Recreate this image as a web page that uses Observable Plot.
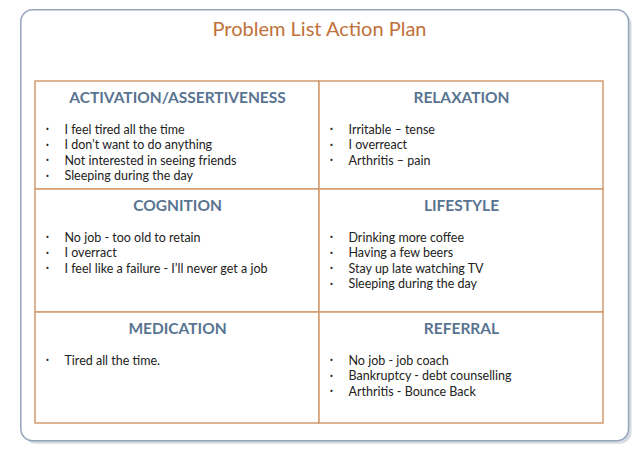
<!DOCTYPE html>
<html><head><meta charset="utf-8">
<script src="https://cdn.jsdelivr.net/npm/d3@7"></script>
<script src="https://cdn.jsdelivr.net/npm/@observablehq/plot@0.6"></script>
<style>body{margin:0;background:#fff;font-family:Lato,"Open Sans",sans-serif}</style>
</head><body><div id="c"></div>
<script>
const title = "Problem List Action Plan";
const headings = ["ACTIVATION/ASSERTIVENESS","RELAXATION","COGNITION","LIFESTYLE","MEDICATION","REFERRAL"];
const items = [
  ["I feel tired all the time","I don’t want to do anything","Not interested in seeing friends","Sleeping during the day"],
  ["Irritable – tense","I overreact","Arthritis – pain"],
  ["No job - too old to retain","I overract","I feel like a failure - I’ll never get a job"],
  ["Drinking more coffee","Having a few beers","Stay up late watching TV","Sleeping during the day"],
  ["Tired all the time."],
  ["No job - job coach","Bankruptcy - debt counselling","Arthritis - Bounce Back"]
];
const cells = headings.map((h,i)=>({h, col:i%2, row:Math.floor(i/2)}));
const lines = items.flatMap((arr,i)=>arr.map((t,j)=>({t,j,col:i%2,row:Math.floor(i/2)})));
const orange="#d49a6e", blue="#587491";
const itemMarks = [0,1,2,3].flatMap(j=>{
  const sub = lines.filter(d=>d.j===j);
  const dy = 48+j*15.5;
  return [
    Plot.text(sub,{x:"col",y:"row",dx:12,dy,text:()=>"•",fontSize:9,fill:"#222"}),
    Plot.text(sub,{x:"col",y:"row",dx:29,dy,text:"t",textAnchor:"start",fontSize:12.5,fill:"#222",fontFamily:"Lato"})
  ];
});
const chart = Plot.plot({
  width:635,height:455,margin:0,
  x:{type:"linear",domain:[0,2],range:[35,603],axis:null},
  y:{type:"linear",domain:[0,1,2,3],range:[81,189,312,423],axis:null},
  marks:[
    Plot.rect([0],{x1:()=>-0.05,x2:()=>2.09,y1:()=>-0.66,y2:()=>3.16,rx:12,fill:"#d6dbe2",dx:3,dy:3}),
    Plot.rect([0],{x1:()=>-0.05,x2:()=>2.09,y1:()=>-0.66,y2:()=>3.16,rx:12,fill:"white",stroke:"#94a5ba",strokeWidth:1.5}),
    Plot.text([title],{x:()=>1,y:()=>0,dy:-52,text:d=>d,fill:"#c0713a",fontSize:20,fontFamily:"Lato"}),
    Plot.rect(cells,{x1:"col",x2:d=>d.col+1,y1:"row",y2:d=>d.row+1,fill:"white",stroke:orange,strokeWidth:1.5}),
    Plot.text(cells,{x:d=>d.col+0.5,y:"row",dy:17,text:"h",fill:blue,fontSize:15.5,fontWeight:"bold",fontFamily:"Lato"}),
    ...itemMarks
  ]
});
document.getElementById("c").append(chart);
</script></body></html>
